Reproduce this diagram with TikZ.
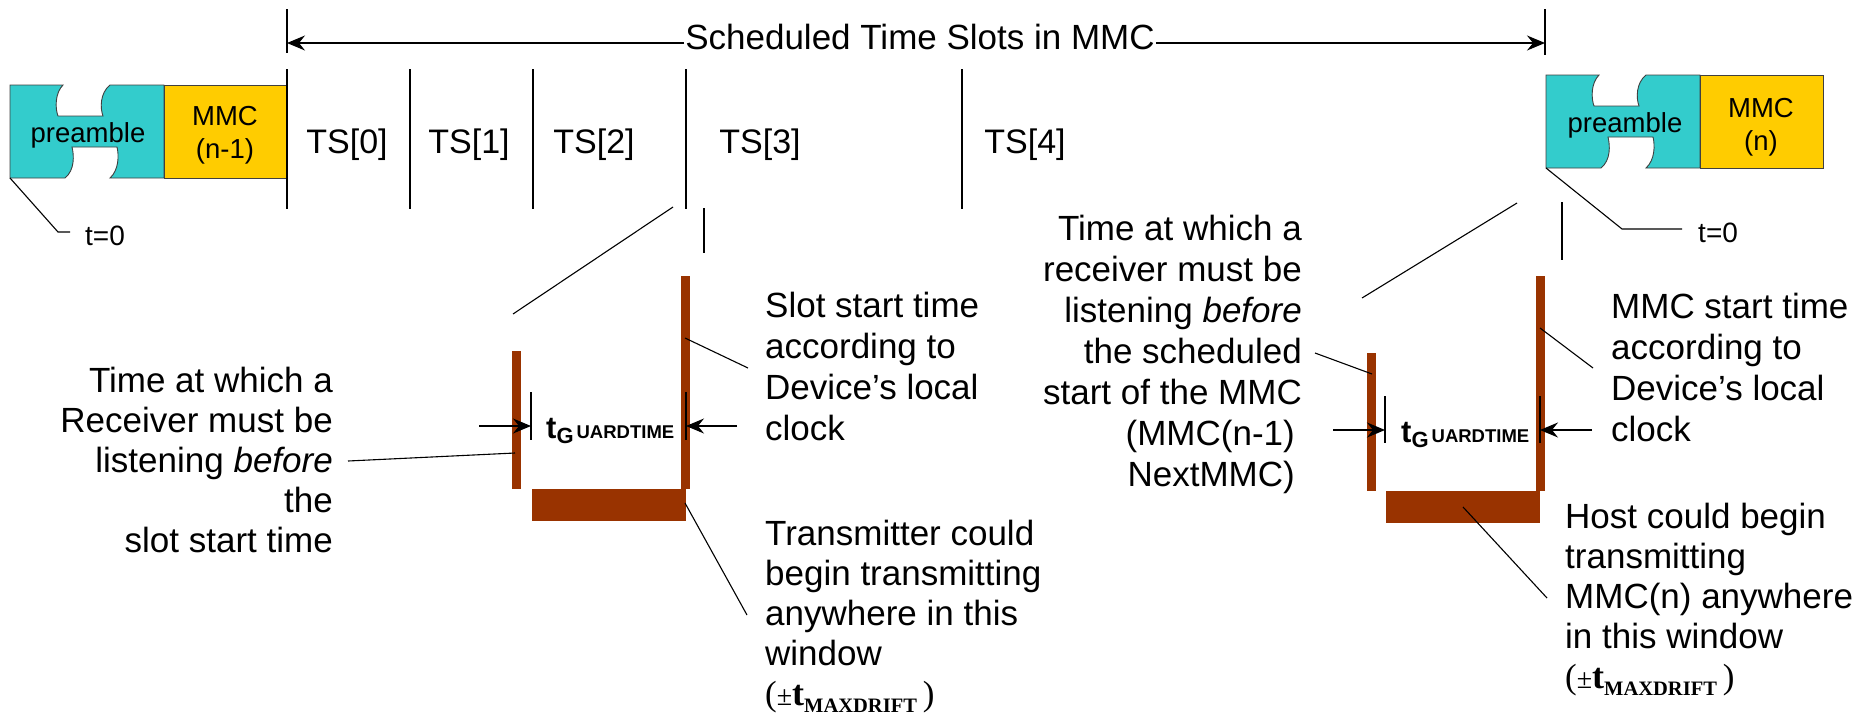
\documentclass[tikz,border=0pt]{standalone}
\usepackage{fontspec}
\setmainfont{Liberation Sans}
\newfontfamily\tms{Liberation Serif}
\usetikzlibrary{arrows.meta}
\definecolor{tealc}{RGB}{51,204,204}
\definecolor{goldc}{RGB}{255,204,0}
\definecolor{rustc}{RGB}{153,51,0}
\newcommand{\tguard}{{\bfseries\fontsize{31}{31}\selectfont t\raisebox{-5pt}{\fontsize{22}{22}\selectfont G}\hspace{3pt}\fontsize{18.5}{18.5}\selectfont UARDTIME}}
\newcommand{\maxdrift}{{\tms\fontsize{35}{40}\selectfont(\fontsize{28}{28}\selectfont\textpm\fontsize{36}{36}\selectfont\bfseries t\raisebox{-7pt}{\fontsize{20.5}{20.5}\selectfont MAXDRIFT}\mdseries\fontsize{35}{40}\selectfont\hspace{6pt})}}
\begin{document}
\begin{tikzpicture}[x=1pt,y=-1pt,
  ln/.style={line width=1.1pt, draw=black},
  dim/.style={ln, -{Stealth[length=18pt,width=15pt,inset=6pt]}},
  bar/.style={fill=rustc, draw=none},
  brk/.style={fill=tealc, draw=black!75, line width=0.9pt},
  mmcbox/.style={fill=goldc, draw=black!75, line width=0.9pt},
  lbl/.style={inner sep=0pt, font=\fontsize{35}{41}\selectfont},
  lbl40/.style={inner sep=0pt, font=\fontsize{35}{40}\selectfont},
  small/.style={inner sep=0pt, font=\fontsize{27.5}{33}\selectfont},
  tzero/.style={inner sep=0pt, font=\fontsize{28}{32}\selectfont},
  tslab/.style={inner sep=0pt, font=\fontsize{34}{40}\selectfont, anchor=base}]
\useasboundingbox (0,0) rectangle (1858,721);

% ---------- left preamble / MMC(n-1)
\begin{scope}[shift={(10,85)}]
  \filldraw[brk] (0,0) -- (53,0) .. controls (45,8) and (45,23) .. (48,31) -- (93,31)
    .. controls (90,23) and (90,8) .. (100,0) -- (154,0) -- (154,93) -- (100,93)
    .. controls (109,85) and (109,70) .. (107,62) -- (62,62)
    .. controls (64,70) and (65,85) .. (55,93) -- (0,93) -- cycle;
  \filldraw[mmcbox] (154,0) rectangle (276,93);
\end{scope}
\node[small, anchor=base] (preL) at (88,142) {preamble};
\node[small, anchor=base] (mmcL) at (225,125) {\begin{tabular}[t]{@{}c@{}}MMC\\(n-1)\end{tabular}};

% ---------- right preamble / MMC(n)
\begin{scope}[shift={(1546,75)}]
  \filldraw[brk] (0,0) -- (53,0) .. controls (45,8) and (45,23) .. (48,31) -- (93,31)
    .. controls (90,23) and (90,8) .. (100,0) -- (154,0) -- (154,93) -- (100,93)
    .. controls (109,85) and (109,70) .. (107,62) -- (62,62)
    .. controls (64,70) and (65,85) .. (55,93) -- (0,93) -- cycle;
  \filldraw[mmcbox] (154,0) rectangle (277,93);
\end{scope}
\node[small, anchor=base] (preR) at (1625,132) {preamble};
\node[small, anchor=base] (mmcR) at (1761,117) {\begin{tabular}[t]{@{}c@{}}MMC\\(n)\end{tabular}};

% ---------- t=0 leaders
\node[tzero, anchor=base west] (t0L) at (85,245) {t=0};
\coordinate (t0La) at (10,178); \coordinate (t0Lb) at (58,232); \coordinate (t0Lc) at (70,232);
\draw[ln] (t0La) -- (t0Lb) -- (t0Lc);
\node[tzero, anchor=base west] (t0R) at (1698,242) {t=0};
\coordinate (t0Ra) at (1546,168); \coordinate (t0Rb) at (1622,229); \coordinate (t0Rc) at (1682,229);
\draw[ln] (t0Ra) -- (t0Rb) -- (t0Rc);

% ---------- title arrow
\coordinate (tl) at (287,43); \coordinate (tr) at (1545,43);
\draw[ln] (287,9) -- (287,53);
\draw[ln] (1545,9) -- (1545,55);
\node[lbl, anchor=base, inner xsep=1pt] (title) at (920,49) {Scheduled Time Slots in MMC};
\draw[dim] (title.west |- tl) -- (tl);
\draw[dim] (title.east |- tr) -- (tr);

% ---------- time slot dividers
\foreach \xx in {287,410,533,686,962} {\draw[ln] (\xx,69) -- (\xx,209);}
\node[tslab] (ts0) at (347,153) {TS[0]};
\node[tslab] (ts1) at (469,153) {TS[1]};
\node[tslab] (ts2) at (594,153) {TS[2]};
\node[tslab] (ts3) at (760,153) {TS[3]};
\node[tslab] (ts4) at (1025,153) {TS[4]};

% ---------- zoom guide lines
\draw[ln] (673,207) -- (513,314);
\draw[ln] (704,208) -- (704,253);
\draw[ln] (1517,203) -- (1362,298);
\draw[ln] (1562,202) -- (1562,260);

% ---------- left guard-time window
\fill[bar] (512,351) rectangle (521,489);
\fill[bar] (681,276) rectangle (690,489);
\fill[bar] (532,489) rectangle (686,521);
\draw[ln] (531,392) -- (531,440);
\draw[ln] (686,392) -- (686,440);
\coordinate (gLa) at (479,426); \coordinate (gLb) at (531,426);
\coordinate (gLc) at (737,426); \coordinate (gLd) at (686,426);
\draw[dim] (gLa) -- (gLb);
\draw[dim] (gLc) -- (gLd);
\node[inner sep=0pt, anchor=base west] (tgL) at (546,438) {\tguard};

% ---------- right guard-time window
\fill[bar] (1367,353) rectangle (1376,491);
\fill[bar] (1536,276) rectangle (1545,491);
\fill[bar] (1386,491) rectangle (1540,523);
\draw[ln] (1385,396) -- (1385,443);
\draw[ln] (1540,396) -- (1540,443);
\coordinate (gRa) at (1333,430); \coordinate (gRb) at (1385,430);
\coordinate (gRc) at (1592,430); \coordinate (gRd) at (1540,430);
\draw[dim] (gRa) -- (gRb);
\draw[dim] (gRc) -- (gRd);
\node[inner sep=0pt, anchor=base west] (tgR) at (1401,442) {\tguard};

% ---------- texts
\node[lbl40, anchor=base east] (recvL) at (333,392) {\begin{tabular}[t]{@{}r@{}}Time at which a\\Receiver must be\\listening \textit{before}\\the\\slot start time\end{tabular}};
\node[lbl, anchor=base west] (slotT) at (765,317) {\begin{tabular}[t]{@{}l@{}}Slot start time\\according to\\Device’s local\\clock\end{tabular}};
\node[lbl40, anchor=base west] (txT) at (765,545) {\begin{tabular}[t]{@{}l@{}}Transmitter could\\begin transmitting\\anywhere in this\\window\\\maxdrift\end{tabular}};
\node[lbl, anchor=base east] (recvR) at (1302,240) {\begin{tabular}[t]{@{}r@{}}Time at which a\\receiver must be\\listening \textit{before}\\the scheduled\\start of the MMC\\(MMC(n-1)\hspace*{7pt}\\NextMMC)\hspace*{7pt}\end{tabular}};
\node[lbl, anchor=base west] (mmcT) at (1611,318) {\begin{tabular}[t]{@{}l@{}}MMC start time\\according to\\Device’s local\\clock\end{tabular}};
\node[lbl40, anchor=base west] (hostT) at (1565,528) {\begin{tabular}[t]{@{}l@{}}Host could begin\\transmitting\\MMC(n) anywhere\\in this window\\\maxdrift\end{tabular}};

% ---------- callouts
\coordinate (k1a) at (515,453); \coordinate (k1b) at (348,461);
\draw[ln] (k1a) -- (k1b);
\coordinate (k2a) at (685,338); \coordinate (k2b) at (748,368);
\draw[ln] (k2a) -- (k2b);
\coordinate (k3a) at (685,503); \coordinate (k3b) at (747,615);
\draw[ln] (k3a) -- (k3b);
\coordinate (k4a) at (1372,374); \coordinate (k4b) at (1315,353);
\draw[ln] (k4a) -- (k4b);
\coordinate (k5a) at (1540,328); \coordinate (k5b) at (1593,368);
\draw[ln] (k5a) -- (k5b);
\coordinate (k6a) at (1463,507); \coordinate (k6b) at (1547,598);
\draw[ln] (k6a) -- (k6b);
\end{tikzpicture}
\end{document}
